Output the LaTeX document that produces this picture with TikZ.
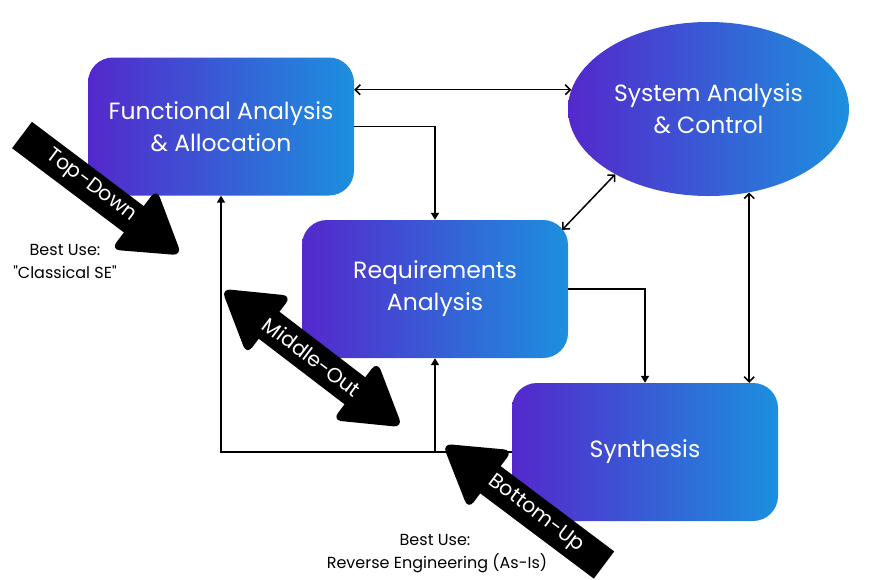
\documentclass[tikz,border=0pt]{standalone}
\usepackage{fontspec}
\setmainfont{Poppins}[Ligatures=TeXOff]
\usetikzlibrary{arrows.meta,shapes.geometric}
\definecolor{gl}{RGB}{84,40,204}
\definecolor{gr}{RGB}{28,144,222}
\newcommand\fatone[4]{% L h H w
  \fill (0,-#4) rectangle ({#1-#2+1},#4);
  \fill[rounded corners=9pt] ({#1-#2},0) -- ({#1-#2},-#3) -- (#1,0) -- ({#1-#2},#3) -- cycle;}
\newcommand\fattwo[4]{% L h H w, centred on origin
  \fill ({-#1/2+#2-1},-#4) rectangle ({#1/2-#2+1},#4);
  \fill[rounded corners=9pt] ({#1/2-#2},0) -- ({#1/2-#2},-#3) -- ({#1/2},0) -- ({#1/2-#2},#3) -- cycle;
  \fill[rounded corners=9pt] ({-#1/2+#2},0) -- ({-#1/2+#2},-#3) -- ({-#1/2},0) -- ({-#1/2+#2},#3) -- cycle;}
\begin{document}
\begin{tikzpicture}[x=1pt,y=-1pt,
  box/.style={rounded corners=25pt, left color=gl, right color=gr, draw=none,
    minimum width=266pt, minimum height=138pt, inner sep=0pt, text=white,
    align=center, font=\fontsize{23.5}{32}\selectfont},
  lbl/.style={font=\fontsize{16}{18}\selectfont, inner sep=0pt},
  fattext/.style={text=white, font=\fontsize{20.5}{22}\selectfont, rotate=-37, inner sep=0pt},
  conn/.style={line width=1.5pt},
  one/.style={conn,-{Triangle[length=7pt,width=8pt]}},
  two/.style={conn,{Straight Barb[length=5pt,width=10pt]}-{Straight Barb[length=5pt,width=10pt]}},
]
\useasboundingbox (0,0) rectangle (869,579);
\fill[white] (0,0) rectangle (869,579);

% main blocks
\node[box] (fa) at (221,126.5) {Functional Analysis\\\& Allocation};
\node[box] (ra) at (435,289) {Requirements\\Analysis};
\node[box] (syn) at (645,452) {Synthesis};
\node[ellipse, left color=gl, right color=gr, draw=none, minimum width=281pt,
  minimum height=174pt, inner sep=0pt, text=white, align=center,
  font=\fontsize{23.5}{32}\selectfont] (sac) at (708.5,109) {System Analysis\\\& Control};

% connectors
\draw[two] (fa.east |- sac.172.5) -- (sac.172.5);
\draw[one] (fa.east) -| (ra.north);
\draw[two] ([xshift=-6pt,yshift=-10pt]ra.north east) -- (sac.215.2);
\draw[one] (ra.east) -| (syn.north);
\draw[two] (sac.296.5) -- (sac.296.5 |- syn.north);
\draw[one] (syn.west) -| (fa.south);
\draw[one] (ra.south |- syn.west) -- (ra.south);

% fat arrows
\begin{scope}[shift={(22,135)}, rotate=-37]
  \fatone{200}{60}{38}{16.5}
\end{scope}
\begin{scope}[shift={(312,358)}, rotate=-37.4]
  \fattwo{228}{60}{37}{17}
\end{scope}
\begin{scope}[shift={(604,565)}, rotate=143.1]
  \fatone{202}{60}{37}{17}
\end{scope}
\node[fattext] (tdt) at (91,186) {Top-Down};
\node[fattext] (mot) at (312,357) {Middle-Out};
\node[fattext] (but) at (536,514) {Bottom-Up};

% labels
\node[lbl] (bu1) at (65,250) {Best Use:};
\node[lbl] (bu2) at (65,272) {"Classical SE"};
\node[lbl] (bu3) at (435,540) {Best Use:};
\node[lbl] (bu4) at (437,563) {Reverse Engineering (As-Is)};
\end{tikzpicture}
\end{document}
